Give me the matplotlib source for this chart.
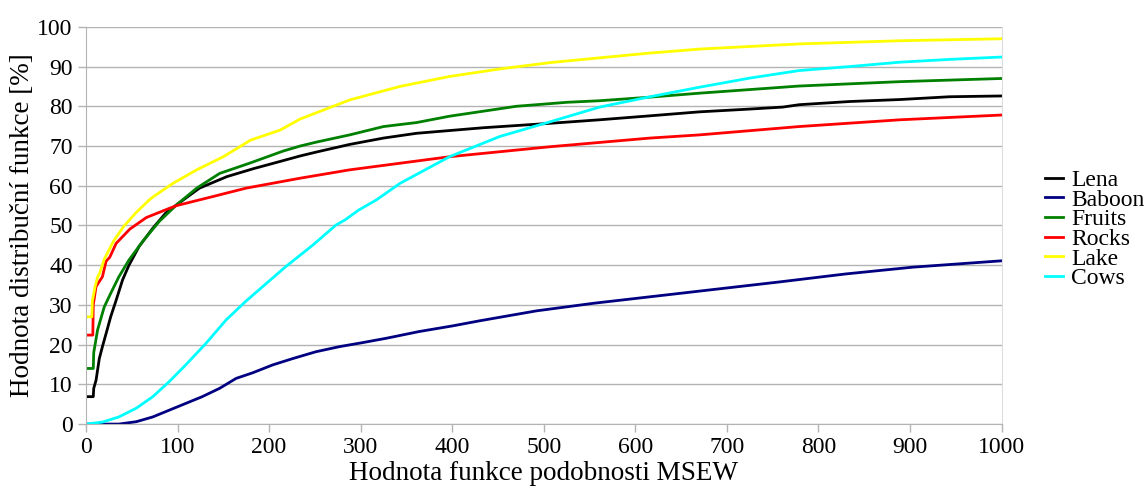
import matplotlib
matplotlib.use("Agg")
import matplotlib.pyplot as plt

# MSEW similarity value (x) and cumulative distribution [%] per image
lena_x = [0, 8, 8.5, 11, 14.6, 18, 22, 27, 33, 40, 47, 58, 73, 87, 99, 124, 154, 183, 215, 234,
          252, 288, 325, 361, 434, 506, 561, 616, 670, 725, 761, 779, 834, 889, 943, 1000]
lena_y = [6.9, 6.9, 9, 11, 16.5, 19.5, 22.8, 27, 31.2, 36.3, 40, 44.7, 49.3, 53.1, 55.2, 59.4, 62.3, 64.3, 66.3, 67.5,
          68.5, 70.4, 72, 73.2, 74.6, 75.7, 76.6, 77.6, 78.6, 79.3, 79.8, 80.4, 81.2, 81.7, 82.4, 82.6]

baboon_x = [0, 36, 55, 73, 91, 109, 127, 146, 164, 182, 204, 226, 251, 277, 302, 328, 364, 400, 430,
            492, 554, 656, 758, 830, 903, 1000]
baboon_y = [0, 0, 0.6, 1.8, 3.5, 5.2, 6.9, 9, 11.5, 12.9, 14.9, 16.5, 18.2, 19.5, 20.5, 21.6, 23.3, 24.7, 26,
            28.5, 30.4, 33.1, 35.8, 37.8, 39.5, 41.1]

fruits_x = [0, 8, 8.5, 12.7, 20, 27, 36, 47, 62, 80, 99, 121, 146, 179, 215, 234, 252, 288, 325, 361,
            397, 470, 525, 561, 616, 670, 779, 889, 1000]
fruits_y = [14, 14, 18, 23.7, 29.5, 32.9, 37.1, 41.3, 46, 51, 55.2, 59.4, 63.1, 65.7, 68.7, 70, 71, 72.8, 74.9, 75.9,
            77.5, 80, 81, 81.4, 82.3, 83.3, 85.1, 86.2, 87]

rocks_x = [0, 7.5, 8, 11, 18, 22, 26, 33, 48, 66, 91, 99, 139, 175, 234, 288, 397, 506, 616, 670, 779, 889, 1000]
rocks_y = [22.4, 22.4, 30, 34.6, 37.1, 41, 42, 45.5, 49.1, 52, 54.3, 55, 57.3, 59.4, 61.9, 64, 67.3, 69.8, 72, 72.8,
           74.9, 76.6, 77.8]

lake_x = [0, 6.5, 7, 10, 12.7, 15, 20, 30, 41, 55, 69, 74, 95, 121, 150, 180, 212, 234, 288, 343,
          397, 452, 507, 561, 616, 670, 779, 889, 1000]
lake_y = [27, 27, 31, 34.6, 37, 38, 41.5, 46, 49.7, 53.3, 56.4, 57.3, 60.6, 64, 67.3, 71.5, 74, 76.8, 81.6, 85,
          87.5, 89.4, 91, 92.2, 93.4, 94.4, 95.7, 96.5, 97]

cows_x = [0, 18, 36, 55, 73, 91, 109, 131, 153, 175, 197, 218, 248, 273, 283, 298, 317, 343, 397, 452,
          507, 561, 616, 670, 725, 779, 834, 889, 943, 1000]
cows_y = [0, 0.5, 1.8, 4, 6.9, 10.7, 14.9, 20.3, 26.2, 31, 35.4, 39.6, 45.1, 50.1, 51.4, 53.9, 56.4, 60.6, 67.3, 72.4,
          76.1, 79.8, 82.4, 84.8, 87.1, 89, 90, 91.1, 91.8, 92.4]

series = [
    ("Lena", lena_x, lena_y, "#000000"),
    ("Baboon", baboon_x, baboon_y, "#000080"),
    ("Fruits", fruits_x, fruits_y, "#008000"),
    ("Rocks", rocks_x, rocks_y, "#ff0000"),
    ("Lake", lake_x, lake_y, "#ffff00"),
    ("Cows", cows_x, cows_y, "#00ffff"),
]

plt.rcParams["font.family"] = ["Liberation Serif", "DejaVu Serif"]

fig = plt.figure(figsize=(11.46, 4.88), dpi=100)
ax = fig.add_axes([0.075, 0.131, 0.799, 0.814])

for name, xs, ys, col in series:
    ax.plot(xs, ys, color=col, lw=2, label=name)

ax.set_xlim(0, 1000)
ax.set_ylim(0, 100)
ax.set_xticks(range(0, 1001, 100))
ax.set_yticks(range(0, 101, 10))
ax.yaxis.grid(True, color="#b3b3b3", lw=1)
ax.set_axisbelow(True)
ax.spines["top"].set_visible(False)
ax.spines["right"].set_color("#dddddd")
ax.spines["left"].set_color("#b3b3b3")
ax.spines["bottom"].set_color("#b3b3b3")
ax.tick_params(axis="both", colors="#b3b3b3", labelcolor="black", labelsize=17, length=6, width=1)

ax.set_xlabel("Hodnota funkce podobnosti MSEW", fontsize=19.5, labelpad=2)
ax.set_ylabel("Hodnota distribuční funkce [%]", fontsize=19.5, labelpad=2)

ax.legend(loc="center left", bbox_to_anchor=(1.037, 0.49), frameon=False,
          fontsize=17, handlelength=0.75, handletextpad=0.35, labelspacing=-0.08,
          borderaxespad=0)

fig.savefig("out.png", dpi=100)
